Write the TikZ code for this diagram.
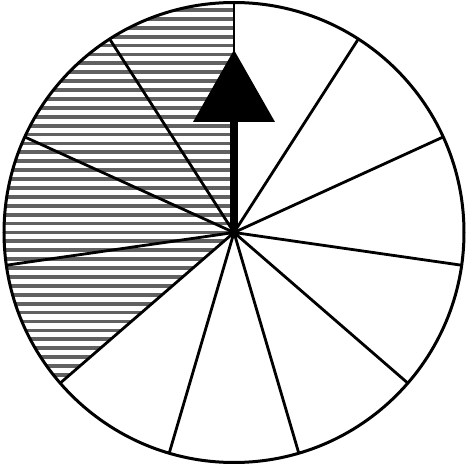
\documentclass[tikz,border=0pt]{standalone}
\begin{document}
\begin{tikzpicture}[x=1pt,y=1pt,
  rim/.style={line width=3pt,black},
  spoke/.style={line width=2.8pt,black},
  hatch/.style={line width=3.8pt,black!62}]
\useasboundingbox (-234,-233.5) rectangle (235,232.5);
\fill[white] (-234,-233.5) rectangle (235,232.5);
\coordinate (c) at (0,0);
\def\R{230}
% hatched sectors (4 of 11)
\begin{scope}
  \clip (c) -- (90:\R) arc[start angle=90,end angle=220.91,radius=\R] -- cycle;
  \foreach \k in {0,...,52}{
    \draw[hatch] (-240,{222.5-8.9*\k}) -- (10,{222.5-8.9*\k});
  }
\end{scope}
% spokes
\foreach \i in {0,...,10}{
  \draw[spoke] (c) -- ({90-\i*360/11}:\R);
}
% rim
\draw[rim] (c) circle[radius=\R];
% arrow
\fill[black] (-4,0) rectangle (4,112);
\fill[black] (-41,110.5) -- (0,182.5) -- (41,110.5) -- cycle;
\fill[black] (c) circle[radius=5.5];
\end{tikzpicture}
\end{document}
